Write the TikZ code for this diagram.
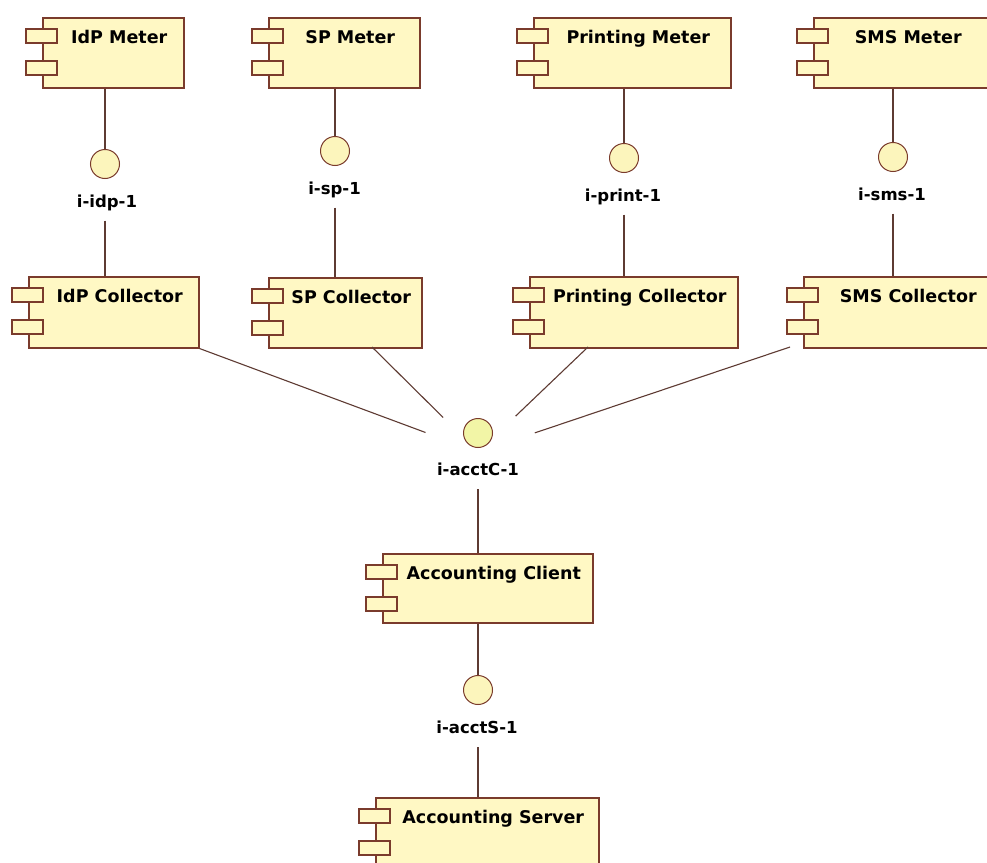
\documentclass[tikz,border=0pt]{standalone}
\usepackage{fontspec}
\setmainfont{DejaVu Sans}
\usetikzlibrary{calc}

\definecolor{compfill}{HTML}{FFF8C4}
\definecolor{compline}{HTML}{7A3B2C}
\definecolor{connline}{HTML}{5E3B33}
\definecolor{ifacefill}{HTML}{FCF5BC}
\definecolor{hubfill}{HTML}{F2F5A6}

\tikzset{
  compbox/.style={draw=compline, fill=compfill, line width=1.5pt, inner sep=0pt, anchor=north west},
  comptab/.style={draw=compline, fill=compfill, line width=1.4pt},
  comptext/.style={font=\bfseries\fontsize{17.5}{20}\selectfont, anchor=base, inner sep=0pt},
  iface/.style={circle, draw=compline, fill=ifacefill, line width=1pt, minimum size=29pt, inner sep=0pt},
  iflabel/.style={font=\bfseries\fontsize{16.5}{19}\selectfont, anchor=base, inner sep=1pt},
  conn/.style={draw=connline, line width=1.1pt},
}

% UML component: name, left, top, right, bottom, title
\newcommand\umlcomp[6]{%
  \node[compbox, minimum width={#4-#2}, minimum height={#5-#3}] (#1) at (#2,#3) {};
  \draw[comptab] ($(#1.north west)+(-16,12)$) rectangle ++(31,14);
  \draw[comptab] ($(#1.north west)+(-16,44)$) rectangle ++(31,14);
  \node[comptext] (#1-name) at ($(#1.north)+(6,26.5)$) {#6};
}

\begin{document}
\begin{tikzpicture}[x=1pt, y=-1pt]
  \useasboundingbox (0,0) rectangle (987,862);
  \fill[white] (0,0) rectangle (987,862);
  \clip (0,0) rectangle (987,862);

  % meters
  \umlcomp{mIdP}{42}{17}{183}{87}{IdP Meter}
  \umlcomp{mSP}{268}{17}{419}{87}{SP Meter}
  \umlcomp{mPrint}{533}{17}{730}{87}{Printing Meter}
  \umlcomp{mSMS}{813}{17}{990}{87}{SMS Meter}

  % collectors
  \umlcomp{cIdP}{28}{276}{198}{347}{IdP Collector}
  \umlcomp{cSP}{268}{277}{421}{347}{SP Collector}
  \umlcomp{cPrint}{529}{276}{737}{347}{Printing Collector}
  \umlcomp{cSMS}{803}{276}{1000}{347}{SMS Collector}

  % accounting
  \umlcomp{aClient}{382}{553}{592}{622}{Accounting Client}
  \umlcomp{aServer}{375}{797}{598}{868}{Accounting Server}

  % interfaces
  \node[iface] (iIdP) at (105,164) {};
  \node[iflabel] (lIdP) at (107,207) {i-idp-1};
  \node[iface] (iSP) at (335,151) {};
  \node[iflabel] (lSP) at (334.5,194) {i-sp-1};
  \node[iface] (iPrint) at (624,158) {};
  \node[iflabel] (lPrint) at (623,201) {i-print-1};
  \node[iface] (iSMS) at (893,157) {};
  \node[iflabel] (lSMS) at (892,200) {i-sms-1};
  \node[iface, fill=hubfill] (iAC) at (478,433) {};
  \node[iflabel] (lAC) at (478,475) {i-acctC-1};
  \node[iface] (iAS) at (478,690) {};
  \node[iflabel] (lAS) at (477,733) {i-acctS-1};

  % meter -> interface -> collector
  \foreach \m/\i/\l/\c in {mIdP/iIdP/lIdP/cIdP, mSP/iSP/lSP/cSP,
                           mPrint/iPrint/lPrint/cPrint, mSMS/iSMS/lSMS/cSMS}{
    \draw[conn] (\m.south -| \i) -- (\i);
    \draw[conn] ($(\l.base -| \i)+(0,13.5)$) -- (\i |- \c.north);
  }

  % collectors -> i-acctC-1
  \coordinate (hub) at (478,452);
  \coordinate (eSP) at (372,347);
  \coordinate (ePrint) at (588,347);
  \coordinate (eSMS) at (790,347);
  \draw[conn, shorten >=56pt] (cIdP.south east) -- (hub);
  \draw[conn, shorten >=49pt] (eSP) -- (hub);
  \draw[conn, shorten >=52pt] (ePrint) -- (hub);
  \draw[conn, shorten >=60pt] (eSMS) -- (hub);

  % client and server
  \draw[conn] ($(lAC.base -| iAC)+(0,14)$) -- (iAC |- aClient.north);
  \draw[conn] (aClient.south -| iAS) -- (iAS);
  \draw[conn] ($(lAS.base -| iAS)+(0,14)$) -- (iAS |- aServer.north);
\end{tikzpicture}
\end{document}
